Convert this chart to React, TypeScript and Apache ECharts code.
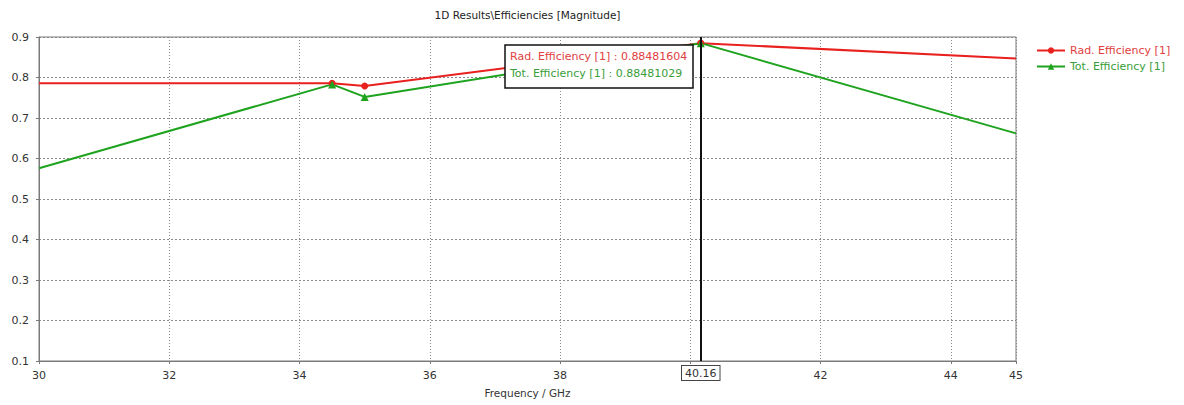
import React, { useEffect, useRef } from "react";
import * as echarts from "echarts";

const titleText = "1D Results\\Efficiencies [Magnitude]";
const xName = "Frequency / GHz";
const seriesNames = ["Rad. Efficiency [1]", "Tot. Efficiency [1]"];
const radX = [30, 34.5, 35, 40.16, 45];
const radY = [0.786, 0.786, 0.779, 0.88481604, 0.847];
const totX = [30, 34.5, 35, 40.16, 45];
const totY = [0.576, 0.783, 0.752, 0.88481029, 0.662];
const showMarker = [false, true, true, true, false];
const cursorX = 40.16;
const cursorLines = [
  "Rad. Efficiency [1] : 0.88481604",
  "Tot. Efficiency [1] : 0.88481029",
];

const RED = "#e8201e";
const GREEN = "#1ea31e";
const FONT = "DejaVu Sans";

function build(xs: number[], ys: number[]) {
  return xs.map((x, i) =>
    showMarker[i] ? { value: [x, ys[i]] } : { value: [x, ys[i]], symbol: "none" }
  );
}

export default function App() {
  const ref = useRef<HTMLDivElement>(null);
  useEffect(() => {
    if (!ref.current) return;
    const chart = echarts.init(ref.current, undefined, { renderer: "svg" });
    const gridLeft = 39;
    const gridRight = 168;
    const plotCenter = gridLeft + (1184 - gridLeft - gridRight) / 2;
    chart.setOption({
      animation: false,
      backgroundColor: "#ffffff",
      grid: {
        left: gridLeft,
        right: gridRight,
        top: 37,
        bottom: 44,
        show: true,
        borderColor: "#7a7a7a",
        borderWidth: 1,
      },
      legend: {
        orient: "vertical",
        left: 1031,
        top: 40,
        itemWidth: 28,
        itemHeight: 8,
        itemGap: 5,
        textStyle: { fontFamily: FONT, fontSize: 11 },
        data: [
          { name: seriesNames[0], textStyle: { color: "#e0403e" } },
          { name: seriesNames[1], textStyle: { color: "#3a9e3a" } },
        ],
      },
      xAxis: {
        type: "value",
        min: 30,
        max: 45,
        interval: 2,
        name: xName,
        nameLocation: "middle",
        nameGap: 26,
        nameTextStyle: { fontFamily: FONT, fontSize: 10.5, color: "#333" },
        axisLine: { lineStyle: { color: "#7a7a7a", width: 1 } },
        axisTick: { show: true, length: 3, lineStyle: { color: "#7a7a7a" } },
        axisLabel: {
          fontFamily: FONT,
          fontSize: 11,
          color: "#333",
          margin: 9,
          formatter: (v: number) => (v === 40 ? "" : String(v)),
        },
        splitLine: {
          show: true,
          lineStyle: { color: "#8a8a8a", width: 1, type: [1, 2] },
        },
      },
      yAxis: {
        type: "value",
        min: 0.1,
        max: 0.9,
        interval: 0.1,
        axisLine: { show: true, lineStyle: { color: "#7a7a7a", width: 1 } },
        axisTick: { show: true, length: 3, lineStyle: { color: "#7a7a7a" } },
        axisLabel: {
          fontFamily: FONT,
          fontSize: 11,
          color: "#333",
          margin: 10,
          formatter: (v: number) => v.toFixed(1),
        },
        splitLine: {
          show: true,
          lineStyle: { color: "#8a8a8a", width: 1, type: [2, 2] },
        },
      },
      series: [
        {
          name: seriesNames[0],
          type: "line",
          data: build(radX, radY),
          symbol: "circle",
          symbolSize: 7,
          showAllSymbol: true,
          itemStyle: { color: RED },
          lineStyle: { color: RED, width: 2 },
          markLine: {
            silent: true,
            symbol: ["none", "none"],
            lineStyle: { color: "#111", width: 2, type: "solid" },
            label: {
              show: true,
              position: "start",
              formatter: "40.16",
              fontFamily: FONT,
              fontSize: 11,
              color: "#333",
              backgroundColor: "#fff",
              borderColor: "#444",
              borderWidth: 1,
              padding: [2, 3, 1, 3],
              distance: 5,
            },
            data: [{ xAxis: cursorX }],
          },
        },
        {
          name: seriesNames[1],
          type: "line",
          data: build(totX, totY),
          symbol: "triangle",
          symbolSize: 8,
          showAllSymbol: true,
          itemStyle: { color: GREEN },
          lineStyle: { color: GREEN, width: 2 },
        },
      ],
      graphic: {
        z: 100,
        elements: [
          {
            type: "text",
            x: plotCenter,
            y: 9,
            z: 100,
            style: {
              text: titleText,
              fontFamily: FONT,
              fontSize: 10.5,
              fill: "#222",
              textAlign: "center",
            },
          },
          {
            type: "rect",
            x: 505,
            y: 45,
            z: 100,
            shape: { x: 0, y: 0, width: 188, height: 43 },
            style: { fill: "#ffffff", stroke: "#111", lineWidth: 1.5 },
          },
          {
            type: "text",
            x: 510,
            y: 51,
            z: 101,
            style: {
              text: cursorLines[0],
              fontFamily: FONT,
              fontSize: 11,
              fill: "#e0403e",
            },
          },
          {
            type: "text",
            x: 510,
            y: 68,
            z: 101,
            style: {
              text: cursorLines[1],
              fontFamily: FONT,
              fontSize: 11,
              fill: "#3a9e3a",
            },
          },
        ],
      },
    });
    return () => chart.dispose();
  }, []);
  return (
    <div
      ref={ref}
      style={{ position: "fixed", left: 0, top: 0, width: 1184, height: 405 }}
    />
  );
}
